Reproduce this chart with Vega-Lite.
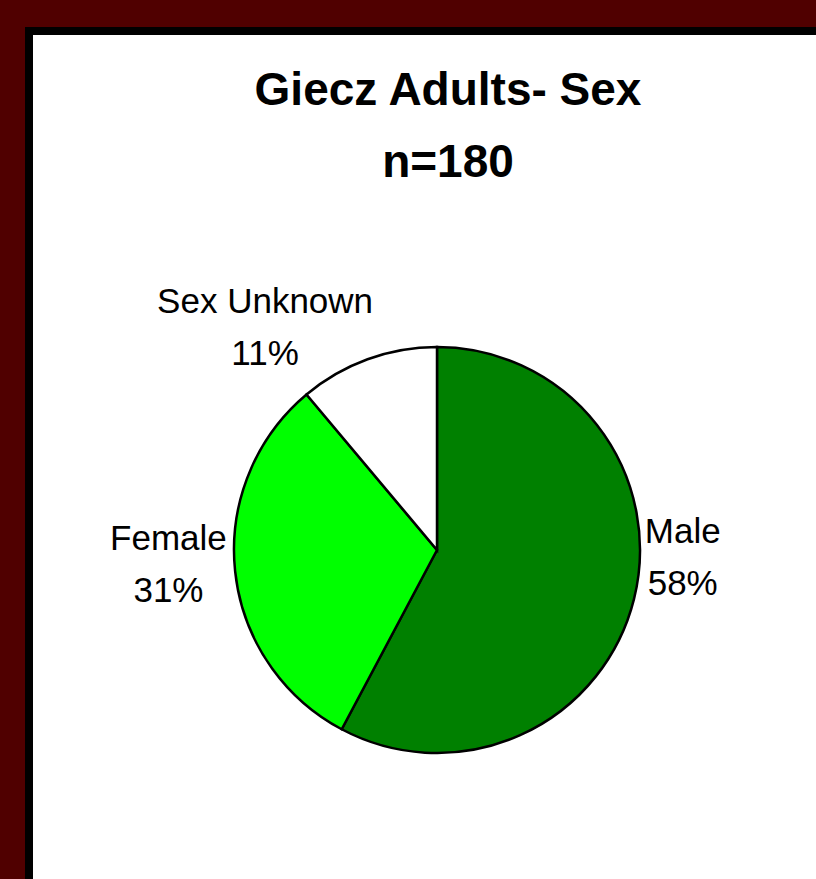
{
  "$schema": "https://vega.github.io/schema/vega-lite/v6.json",
  "width": 816,
  "height": 1038,
  "autosize": {"type": "none"},
  "padding": {"left": 29, "top": 31, "right": -29, "bottom": -190},
  "background": "#500000",
  "view": {"fill": "white", "stroke": "black", "strokeWidth": 8},
  "title": {
    "text": ["Giecz Adults- Sex", "n=180"],
    "font": "Liberation Sans",
    "fontSize": 46,
    "fontWeight": "bold",
    "color": "black",
    "lineHeight": 72,
    "anchor": "middle",
    "baseline": "top",
    "offset": -156,
    "dx": 11
  },
  "data": {
    "values": [
      {"sex": "Male", "count": 104, "rank": 1, "label": "Male\n58%"},
      {"sex": "Female", "count": 56, "rank": 2, "label": "Female\n31%"},
      {"sex": "Sex Unknown", "count": 20, "rank": 3, "label": "Sex Unknown\n11%"}
    ]
  },
  "encoding": {
    "theta": {"field": "count", "type": "quantitative", "stack": true},
    "order": {"field": "rank", "type": "quantitative"}
  },
  "layer": [
    {
      "mark": {"type": "arc", "outerRadius": 203, "stroke": "black", "strokeWidth": 2.5},
      "encoding": {
        "color": {
          "field": "sex",
          "type": "nominal",
          "scale": {"domain": ["Male", "Female", "Sex Unknown"], "range": ["#008000", "#00ff00", "#ffffff"]},
          "legend": null
        }
      }
    },
    {
      "mark": {"type": "text", "radius": 246, "dx": 7, "dy": -78, "font": "Liberation Sans", "fontSize": 35, "lineBreak": "\n", "lineHeight": 52, "align": "center", "baseline": "middle", "color": "black"},
      "encoding": {
        "text": {"condition": {"test": "datum.sex === 'Male'", "field": "label"}, "value": ""}
      }
    },
    {
      "mark": {"type": "text", "radius": 265, "dx": -5, "dy": -39, "font": "Liberation Sans", "fontSize": 35, "lineBreak": "\n", "lineHeight": 52, "align": "center", "baseline": "middle", "color": "black"},
      "encoding": {
        "text": {"condition": {"test": "datum.sex === 'Female'", "field": "label"}, "value": ""}
      }
    },
    {
      "mark": {"type": "text", "radius": 260, "dx": -83, "dy": -4, "font": "Liberation Sans", "fontSize": 35, "lineBreak": "\n", "lineHeight": 52, "align": "center", "baseline": "middle", "color": "black"},
      "encoding": {
        "text": {"condition": {"test": "datum.sex === 'Sex Unknown'", "field": "label"}, "value": ""}
      }
    }
  ]
}
